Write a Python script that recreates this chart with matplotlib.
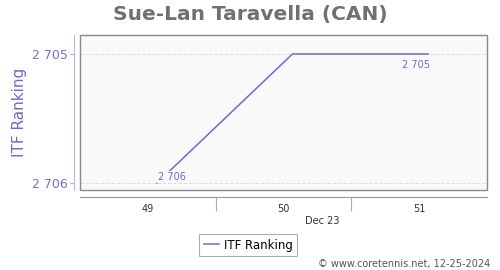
import matplotlib.pyplot as plt
from matplotlib.patches import Rectangle

# data
weeks = [49, 50, 51]
ranking = [2706, 2705, 2705]
week_labels = ["49", "50", "51"]
month_label = "Dec 23"

line_col = "#6b6bcf"
fig = plt.figure(figsize=(5, 2.7), dpi=100)
ax = fig.add_axes([80 / 500, 80 / 270, 407 / 500, 155 / 270])
ax.set_facecolor("#f9f9f9")

ax.plot(weeks, ranking, color=line_col, lw=1.1, zorder=3)

# value labels for first and last point
ax.annotate("2 706", (weeks[0], ranking[0]), xytext=(1, 2.5), textcoords="offset points",
            fontsize=7, color=line_col, zorder=4,
            bbox=dict(boxstyle="square,pad=0.1", fc="#f9f9f9", ec="none"))
ax.annotate("2 705", (weeks[-1], ranking[-1]), xytext=(-19, -10), textcoords="offset points",
            fontsize=7, color=line_col, zorder=4)

ax.set_xlim(48.432, 51.435)
ax.set_ylim(2706.054, 2704.853)

# y axis
ax.set_yticks([2705, 2706])
ax.set_yticklabels(["2 705", "2 706"])
ax.tick_params(axis="y", colors="#aaaadd", labelcolor="#7070cc", labelsize=9, length=3, pad=2)
ax.yaxis.grid(True, ls="--", color="#dddddd", lw=0.7)
ax.set_ylabel("ITF Ranking", color=line_col, fontsize=11, labelpad=3)

# x axis: labels centered, ticks between categories
off = -0.066
ax.set_xticks([w + off for w in weeks])
ax.set_xticklabels(week_labels)
ax.set_xticks([w + off + 0.5 for w in weeks[:-1]], minor=True)
ax.tick_params(axis="x", which="major", length=0, labelsize=7, pad=5, labelcolor="#333333")
ax.tick_params(axis="x", which="minor", length=10, color="#aaaaaa", width=0.8)

for s in ["top", "right"]:
    ax.spines[s].set_visible(False)
ax.spines["left"].set_position(("outward", 4))
ax.spines["left"].set_color("#b8b8e8")
ax.spines["bottom"].set_position(("outward", 5))
ax.spines["bottom"].set_color("#999999")
ax.add_patch(Rectangle((0, 0), 1, 1, transform=ax.transAxes, fill=False,
                       ec="#888888", lw=1, clip_on=False, zorder=5))

fig.text(322 / 500, 1 - 221 / 270, month_label, ha="center", va="center",
         fontsize=7, color="#333333")

fig.text(0.5, 0.948, "Sue-Lan Taravella (CAN)", ha="center", va="center",
         fontsize=14.5, fontweight="bold", color="#707070")

leg = fig.legend(["ITF Ranking"], loc="center", bbox_to_anchor=(248 / 500, 1 - 245 / 270),
                 fontsize=8.5, frameon=True, fancybox=False, handlelength=1.3,
                 handletextpad=0.4, borderpad=0.4)
leg.get_frame().set_edgecolor("#999999")
leg.get_frame().set_linewidth(0.8)

fig.text(0.98, 1 - 264 / 270, "© www.coretennis.net, 12-25-2024", ha="right",
         va="center", fontsize=7, color="#555555")

fig.savefig("out.png", dpi=100)
